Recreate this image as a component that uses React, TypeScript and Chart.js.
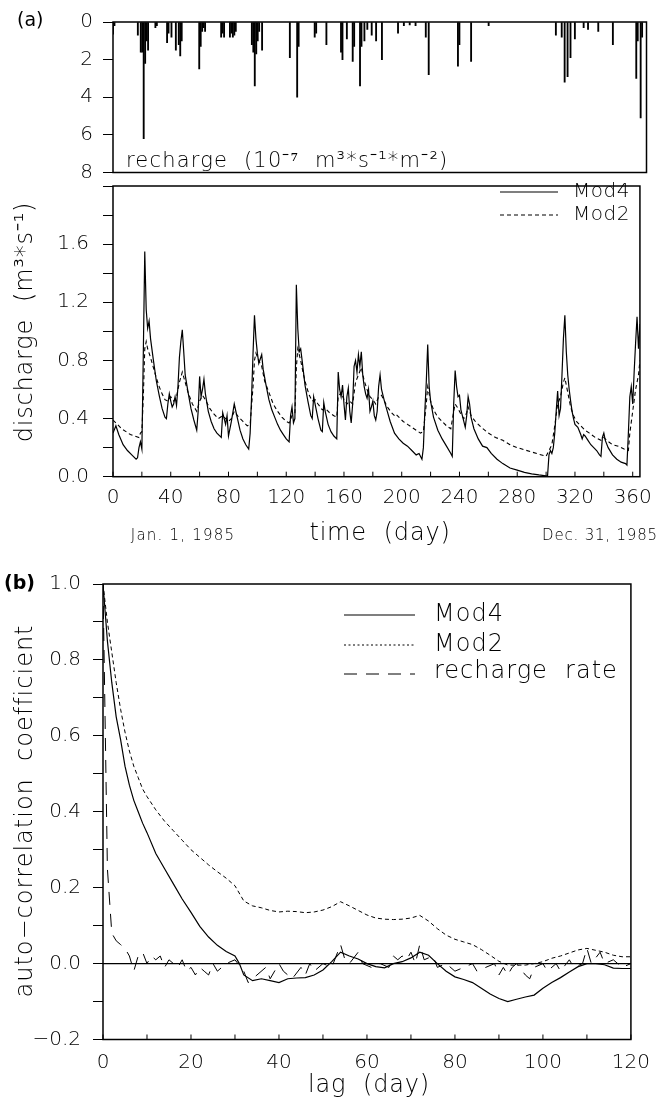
import React, { useEffect, useRef } from 'react';
import { Chart, registerables } from 'chart.js';
Chart.register(...registerables);

const FONT = 'DejaVu Sans';
const W = '300';

// ---------- (a) recharge (10^-7 m3 s-1 m-2), daily ----------
const rechargeDay = [0, 1, 17, 19, 20, 21, 22, 23, 24, 29, 30, 37, 38, 40, 43, 45, 46, 47, 59, 60, 61, 62, 63, 74, 75, 76, 80, 81, 82, 83, 84, 95, 96, 97, 98, 99, 100, 102, 121, 126, 127, 138, 139, 146, 156, 157, 160, 164, 165, 169, 170, 172, 174, 177, 180, 184, 195, 199, 203, 207, 214, 216, 236, 237, 245, 257, 303, 307, 309, 311, 313, 316, 322, 325, 332, 342, 358, 359, 361, 362];
const rechargeRate = [0.65, 0.2, 0.7, 1.6, 1.6, 6.2, 2.2, 1.0, 1.5, 0.3, 0.2, 1.1, 0.6, 0.8, 1.5, 1.2, 1.8, 1.0, 2.5, 1.3, 0.5, 0.3, 0.5, 0.8, 0.6, 0.8, 0.8, 0.6, 0.8, 0.7, 0.5, 1.2, 1.6, 3.4, 1.7, 1.0, 0.5, 1.5, 1.9, 4.0, 1.3, 0.8, 0.6, 1.2, 1.6, 2.0, 0.9, 2.1, 1.3, 3.4, 1.3, 1.0, 0.4, 0.7, 1.0, 2.0, 0.6, 0.2, 0.15, 0.2, 0.8, 2.8, 2.35, 1.2, 2.1, 0.2, 0.7, 0.8, 3.2, 2.9, 1.9, 0.9, 0.3, 0.4, 0.5, 1.2, 3.0, 1.0, 5.1, 0.8];
const rechargeTicks = [0, 1, 2, 3, 4, 5, 6, 7, 8];
const rechargeLabels = [0, 2, 4, 6, 8];

// ---------- (a) discharge (m3/s) [day, value] ----------
const mod4Discharge: [number, number][] = [[0,0.30],[2,0.35],[4,0.29],[7,0.22],[10,0.18],[13,0.15],[16,0.12],[17,0.13],[18,0.20],[19,0.24],[20,0.19],[21,0.85],[22,1.55],[23,1.15],[24,1.02],[25,1.07],[26,0.95],[28,0.80],[30,0.66],[32,0.56],[34,0.47],[36,0.41],[37,0.40],[38,0.50],[39,0.57],[40,0.52],[41,0.48],[42,0.50],[43,0.55],[44,0.49],[45,0.62],[46,0.82],[47,0.93],[48,1.01],[49,0.86],[50,0.70],[52,0.58],[54,0.47],[56,0.39],[58,0.32],[59,0.45],[60,0.69],[61,0.55],[62,0.60],[63,0.67],[64,0.57],[66,0.45],[68,0.38],[70,0.33],[72,0.30],[75,0.27],[76,0.44],[77,0.40],[78,0.36],[79,0.42],[80,0.28],[82,0.38],[84,0.50],[86,0.41],[88,0.32],[90,0.26],[92,0.22],[94,0.19],[95,0.30],[96,0.55],[97,0.85],[98,1.11],[99,0.95],[100,0.85],[101,0.78],[102,0.81],[103,0.84],[104,0.74],[106,0.63],[108,0.53],[110,0.46],[112,0.41],[114,0.36],[116,0.32],[118,0.29],[120,0.26],[122,0.24],[123,0.42],[124,0.48],[125,0.37],[126,0.40],[127,1.32],[128,1.02],[129,0.86],[130,0.88],[131,0.80],[133,0.63],[135,0.52],[137,0.42],[138,0.40],[139,0.55],[140,0.50],[142,0.40],[144,0.32],[145,0.31],[146,0.51],[147,0.45],[149,0.36],[151,0.31],[153,0.28],[155,0.26],[156,0.72],[157,0.60],[158,0.55],[159,0.63],[160,0.50],[161,0.39],[162,0.55],[163,0.61],[164,0.45],[165,0.37],[166,0.50],[167,0.76],[168,0.80],[169,0.72],[170,0.84],[171,0.76],[172,0.86],[173,0.70],[174,0.62],[175,0.57],[176,0.54],[177,0.60],[178,0.45],[179,0.48],[180,0.52],[181,0.42],[182,0.39],[183,0.45],[184,0.62],[185,0.70],[186,0.60],[188,0.52],[190,0.45],[192,0.38],[195,0.30],[198,0.26],[201,0.23],[204,0.21],[207,0.18],[210,0.15],[212,0.16],[214,0.12],[215,0.20],[216,0.45],[217,0.65],[218,0.91],[219,0.62],[220,0.52],[222,0.41],[225,0.32],[228,0.26],[231,0.21],[234,0.16],[235,0.14],[236,0.50],[237,0.73],[238,0.62],[239,0.55],[240,0.56],[241,0.46],[243,0.38],[244,0.34],[245,0.42],[246,0.55],[247,0.50],[248,0.41],[250,0.33],[253,0.26],[256,0.21],[259,0.20],[262,0.16],[266,0.12],[270,0.09],[275,0.06],[280,0.045],[285,0.03],[290,0.02],[295,0.012],[301,0.005],[302,0.15],[303,0.18],[304,0.16],[305,0.20],[306,0.30],[307,0.45],[308,0.59],[309,0.42],[310,0.47],[311,0.70],[312,0.95],[313,1.11],[314,0.86],[315,0.70],[316,0.60],[317,0.52],[318,0.45],[319,0.40],[320,0.36],[322,0.34],[324,0.29],[325,0.26],[326,0.29],[327,0.28],[329,0.25],[331,0.22],[333,0.20],[335,0.18],[337,0.15],[338,0.14],[339,0.27],[340,0.30],[341,0.25],[343,0.20],[346,0.15],[349,0.12],[352,0.10],[355,0.09],[356,0.08],[357,0.30],[358,0.55],[359,0.62],[360,0.50],[361,0.72],[362,0.92],[363,1.10],[364,0.88],[365,1.05]];
const mod2Discharge: [number, number][] = [[0,0.39],[3,0.36],[6,0.33],[9,0.31],[12,0.29],[15,0.28],[18,0.27],[19,0.30],[20,0.31],[21,0.55],[22,0.88],[23,0.93],[24,0.88],[26,0.82],[28,0.75],[30,0.68],[32,0.62],[34,0.57],[36,0.53],[38,0.52],[40,0.55],[42,0.52],[44,0.55],[46,0.65],[48,0.72],[50,0.65],[52,0.58],[55,0.50],[58,0.45],[60,0.52],[62,0.56],[64,0.53],[67,0.47],[70,0.43],[73,0.40],[76,0.42],[78,0.40],[80,0.38],[82,0.40],[84,0.45],[87,0.41],[90,0.38],[93,0.35],[95,0.36],[97,0.62],[98,0.80],[99,0.85],[101,0.80],[103,0.76],[105,0.66],[108,0.58],[111,0.50],[114,0.45],[117,0.41],[120,0.38],[122,0.37],[124,0.42],[126,0.44],[127,0.75],[128,0.88],[130,0.80],[132,0.70],[134,0.62],[136,0.56],[138,0.52],[140,0.53],[142,0.50],[145,0.46],[147,0.47],[150,0.44],[153,0.42],[155,0.41],[156,0.55],[158,0.58],[160,0.53],[162,0.50],[164,0.52],[166,0.50],[168,0.65],[170,0.70],[172,0.75],[174,0.66],[176,0.60],[178,0.55],[180,0.53],[182,0.50],[184,0.55],[186,0.56],[188,0.52],[190,0.48],[193,0.44],[195,0.42],[196,0.43],[198,0.41],[201,0.38],[204,0.36],[207,0.34],[210,0.32],[213,0.30],[215,0.31],[217,0.50],[218,0.62],[220,0.52],[222,0.46],[225,0.41],[228,0.38],[231,0.35],[234,0.33],[236,0.45],[237,0.50],[239,0.47],[241,0.43],[243,0.40],[245,0.44],[246,0.48],[248,0.42],[251,0.38],[255,0.34],[260,0.30],[265,0.27],[270,0.25],[275,0.22],[280,0.20],[285,0.185],[290,0.17],[295,0.155],[300,0.14],[302,0.18],[304,0.22],[306,0.35],[308,0.50],[310,0.55],[312,0.65],[313,0.68],[315,0.58],[317,0.48],[319,0.42],[321,0.38],[324,0.35],[327,0.32],[330,0.30],[334,0.27],[338,0.25],[340,0.27],[342,0.25],[346,0.22],[350,0.21],[354,0.19],[357,0.18],[358,0.30],[360,0.45],[362,0.60],[364,0.70],[365,0.80]];
const dischargeTicks = [0, 0.2, 0.4, 0.6, 0.8, 1.0, 1.2, 1.4, 1.6, 1.8, 2.0];
const dischargeLabels = [0, 0.4, 0.8, 1.2, 1.6];
const timeTicks = [0, 20, 40, 60, 80, 100, 120, 140, 160, 180, 200, 220, 240, 260, 280, 300, 320, 340, 360];
const timeLabels = [0, 40, 80, 120, 160, 200, 240, 280, 320, 360];

// ---------- (b) auto-correlation [lag, value] ----------
const acfMod4: [number, number][] = [[0,1.0],[1,0.85],[2,0.74],[3,0.65],[4,0.59],[5,0.52],[6,0.47],[7,0.43],[8,0.40],[9,0.37],[10,0.345],[12,0.29],[14,0.25],[16,0.21],[18,0.17],[20,0.135],[22,0.098],[24,0.07],[26,0.048],[28,0.032],[30,0.02],[31,0.0],[32,-0.03],[34,-0.045],[36,-0.04],[38,-0.045],[40,-0.05],[42,-0.04],[44,-0.038],[46,-0.037],[48,-0.03],[50,-0.017],[52,0.005],[54,0.03],[56,0.02],[58,0.012],[60,0.0],[62,-0.008],[64,-0.011],[66,0.0],[68,0.005],[70,0.015],[72,0.03],[74,0.022],[76,0.0],[78,-0.02],[80,-0.035],[82,-0.042],[84,-0.05],[86,-0.065],[88,-0.08],[90,-0.092],[92,-0.1],[94,-0.094],[96,-0.088],[98,-0.083],[100,-0.065],[102,-0.05],[104,-0.037],[106,-0.022],[108,-0.008],[110,0.0],[112,0.0],[114,-0.003],[116,-0.012],[118,-0.013],[120,-0.013]];
const acfMod2: [number, number][] = [[0,1.0],[1,0.9],[2,0.82],[3,0.74],[4,0.67],[5,0.61],[6,0.56],[7,0.52],[8,0.49],[9,0.46],[10,0.44],[12,0.405],[14,0.375],[16,0.35],[18,0.325],[20,0.30],[22,0.28],[24,0.26],[26,0.242],[28,0.225],[30,0.205],[32,0.165],[34,0.152],[36,0.147],[38,0.14],[40,0.136],[42,0.138],[44,0.137],[46,0.134],[48,0.136],[50,0.141],[52,0.15],[54,0.163],[56,0.152],[58,0.14],[60,0.128],[62,0.12],[64,0.117],[66,0.116],[68,0.117],[70,0.12],[72,0.127],[74,0.112],[76,0.092],[78,0.075],[80,0.064],[82,0.057],[84,0.05],[86,0.037],[88,0.022],[90,0.006],[92,-0.004],[94,-0.004],[96,-0.004],[98,0.0],[100,0.005],[102,0.014],[104,0.02],[106,0.028],[108,0.036],[110,0.04],[112,0.035],[114,0.03],[116,0.022],[118,0.018],[120,0.018]];
const acfRecharge: [number, number][] = [[0,1.0],[1,0.25],[2,0.08],[3,0.06],[4,0.05],[5,0.04],[6,0.02],[7,-0.02],[8,0.02],[9,0.03],[10,0.0],[11,0.02],[12,0.01],[13,0.02],[14,-0.01],[15,0.01],[16,0.0],[17,-0.01],[18,0.01],[19,-0.02],[20,-0.01],[21,-0.03],[22,-0.01],[23,-0.02],[24,-0.03],[25,0.0],[26,-0.02],[27,-0.01],[28,0.0],[30,0.01],[32,-0.02],[33,-0.05],[35,-0.03],[37,-0.01],[38,-0.04],[40,0.0],[41,-0.02],[43,-0.04],[45,-0.01],[46,-0.03],[47,0.0],[48,-0.02],[50,0.0],[52,-0.01],[54,0.05],[55,0.01],[56,0.0],[58,0.03],[59,0.0],[61,-0.01],[63,0.0],[65,-0.01],[66,0.02],[67,0.01],[68,0.02],[69,0.01],[70,0.03],[71,0.0],[72,0.05],[73,0.01],[75,0.02],[76,-0.01],[78,0.0],[80,-0.02],[82,-0.01],[84,0.0],[85,-0.02],[87,-0.01],[89,0.0],[90,-0.03],[91,-0.01],[92,-0.03],[93,-0.01],[94,0.0],[96,-0.03],[97,-0.04],[98,-0.01],[100,0.0],[101,-0.02],[103,0.0],[104,-0.02],[106,0.01],[107,-0.01],[109,0.0],[110,0.04],[111,0.0],[113,0.03],[114,0.0],[116,0.01],[118,-0.01],[120,0.0]];
const acfTicks = [-0.2, -0.1, 0, 0.1, 0.2, 0.3, 0.4, 0.5, 0.6, 0.7, 0.8, 0.9, 1.0];
const acfLabels = [-0.2, 0, 0.2, 0.4, 0.6, 0.8, 1.0];
const lagTicks = [0, 10, 20, 30, 40, 50, 60, 70, 80, 90, 100, 110, 120];
const lagLabels = [0, 20, 40, 60, 80, 100, 120];

const has = (arr: number[], v: number) => arr.some((a) => Math.abs(a - v) < 1e-9);
const toPts = (p: [number, number][]) => p.map(([x, y]) => ({ x, y }));
const fmt1 = (v: number) => (v < 0 ? '\u2212' + Math.abs(v).toFixed(1) : v.toFixed(1));

function txt(ctx: CanvasRenderingContext2D, s: string, x: number, y: number, size: number, o: any = {}) {
  ctx.save();
  ctx.font = `${o.weight || W} ${size}px "${FONT}"`;
  ctx.fillStyle = '#000';
  ctx.textAlign = o.align || 'left';
  ctx.textBaseline = o.baseline || 'alphabetic';
  if (o.spacing) (ctx as any).letterSpacing = o.spacing + 'px';
  ctx.translate(x, y);
  if (o.rotate) ctx.rotate(o.rotate);
  ctx.fillText(s, 0, 0);
  ctx.restore();
}
function frame(chart: any, lw = 1.5) {
  const { ctx, chartArea: a } = chart;
  ctx.save();
  ctx.strokeStyle = '#000';
  ctx.lineWidth = lw;
  ctx.strokeRect(a.left, a.top, a.right - a.left, a.bottom - a.top);
  ctx.restore();
}
function innerTicks(chart: any, values: number[], len: number) {
  const { ctx, chartArea: a, scales } = chart;
  ctx.save();
  ctx.strokeStyle = '#000';
  ctx.lineWidth = 1;
  values.forEach((v) => {
    const px = scales.x.getPixelForValue(v);
    ctx.beginPath();
    ctx.moveTo(px, a.bottom);
    ctx.lineTo(px, a.bottom - len);
    ctx.stroke();
  });
  ctx.restore();
}
function legendLine(ctx: CanvasRenderingContext2D, x1: number, x2: number, y: number, dash: number[], lw: number) {
  ctx.save();
  ctx.strokeStyle = '#000';
  ctx.lineWidth = lw;
  ctx.setLineDash(dash);
  ctx.beginPath();
  ctx.moveTo(x1, y);
  ctx.lineTo(x2, y);
  ctx.stroke();
  ctx.restore();
}

const tickFont = { family: FONT, size: 20, weight: W as any };
const TOP_A = 0, TOP_B = 160, TOP_C = 560;

export default function App() {
  const refA = useRef<HTMLCanvasElement>(null);
  const refB = useRef<HTMLCanvasElement>(null);
  const refC = useRef<HTMLCanvasElement>(null);

  useEffect(() => {
    Chart.defaults.font.family = FONT;
    Chart.defaults.color = '#000';
    const common = { animation: false as const, responsive: false, maintainAspectRatio: false, devicePixelRatio: 1 };
    const yGrid = { display: true, drawOnChartArea: false, drawTicks: true, tickLength: 10, color: '#000', lineWidth: 1 };

    const chartA = new Chart(refA.current!, {
      type: 'bar',
      data: {
        datasets: [{
          label: 'recharge',
          data: rechargeDay.map((d, i) => ({ x: d, y: rechargeRate[i] })),
          backgroundColor: '#000',
          borderWidth: 0,
          barThickness: 1.2,
        } as any],
      },
      options: {
        ...common,
        layout: { padding: { left: 0, right: 14.5, top: 21 - TOP_A, bottom: 200 - 172.5 } },
        plugins: { legend: { display: false }, tooltip: { enabled: false } },
        scales: {
          x: { type: 'linear', min: 0, max: 365, display: false, offset: false },
          y: {
            min: 0, max: 8, reverse: true,
            afterFit: (s: any) => { s.width = 113; },
            afterBuildTicks: (s: any) => { s.ticks = rechargeTicks.map((v) => ({ value: v })); },
            ticks: { font: tickFont, color: '#000', padding: 10, callback: (v: any) => (has(rechargeLabels, v) ? String(v) : '') },
            grid: yGrid, border: { display: false },
          },
        },
      } as any,
      plugins: [{
        id: 'decoA',
        afterDraw(chart: any) {
          frame(chart);
          const ctx = chart.ctx;
          txt(ctx, '(a)', 17, 21 - TOP_A, 19, { baseline: 'middle', weight: 'normal' });
          txt(ctx, 'recharge  (10\u207B\u2077  m\u00B3*s\u207B\u00B9*m\u207B\u00B2)', 126, 167 - TOP_A, 21, { spacing: 1.2 });
        },
      }],
    });

    const chartB = new Chart(refB.current!, {
      type: 'line',
      data: {
        datasets: [
          { label: 'Mod4', data: toPts(mod4Discharge), borderColor: '#000', borderWidth: 1.2, pointRadius: 0, tension: 0, fill: false },
          { label: 'Mod2', data: toPts(mod2Discharge), borderColor: '#000', borderWidth: 1.1, borderDash: [4, 3], pointRadius: 0, tension: 0, fill: false },
        ],
      },
      options: {
        ...common,
        layout: { padding: { left: 0, right: 14.5, top: 172.5 - TOP_B, bottom: 0 } },
        plugins: { legend: { display: false }, tooltip: { enabled: false } },
        scales: {
          x: {
            type: 'linear', min: 0, max: 365,
            afterFit: (s: any) => { s.height = 400 - (476.7 - TOP_B); },
            afterBuildTicks: (s: any) => { s.ticks = timeTicks.map((v) => ({ value: v })); },
            ticks: { font: tickFont, color: '#000', padding: 9, maxRotation: 0, autoSkip: false, callback: (v: any) => (has(timeLabels, v) ? String(v) : '') },
            grid: { display: false, drawTicks: false, tickLength: 0 }, border: { display: false },
          },
          y: {
            min: 0, max: 2.0,
            afterFit: (s: any) => { s.width = 113; },
            afterBuildTicks: (s: any) => { s.ticks = dischargeTicks.map((v) => ({ value: v })); },
            ticks: { font: tickFont, color: '#000', padding: 14, callback: (v: any) => (has(dischargeLabels, v) ? Number(v).toFixed(1) : '') },
            grid: yGrid, border: { display: false },
          },
        },
      } as any,
      plugins: [{
        id: 'decoB',
        afterDraw(chart: any) {
          frame(chart);
          innerTicks(chart, timeTicks, 5);
          const ctx = chart.ctx;
          const ds = chart.data.datasets;
          legendLine(ctx, 500, 558, 192 - TOP_B, [], 1.2);
          legendLine(ctx, 500, 558, 215 - TOP_B, [4, 3], 1.1);
          txt(ctx, ds[0].label, 573, 192 - TOP_B, 20, { baseline: 'middle', spacing: 0.5 });
          txt(ctx, ds[1].label, 573, 215 - TOP_B, 20, { baseline: 'middle', spacing: 0.5 });
          txt(ctx, 'discharge  (m\u00B3*s\u207B\u00B9)', 32, 322 - TOP_B, 24, { align: 'center', rotate: -Math.PI / 2, spacing: 0.8 });
          txt(ctx, 'time  (day)', 380, 540 - TOP_B, 24, { align: 'center', spacing: 0.8 });
          txt(ctx, 'Jan. 1, 1985', 183, 540 - TOP_B, 15, { align: 'center', spacing: 1.2 });
          txt(ctx, 'Dec. 31, 1985', 600, 540 - TOP_B, 15, { align: 'center', spacing: 0.8 });
        },
      }],
    });

    const chartC = new Chart(refC.current!, {
      type: 'line',
      data: {
        datasets: [
          { label: 'Mod4', data: toPts(acfMod4), borderColor: '#000', borderWidth: 1.2, pointRadius: 0, tension: 0, fill: false },
          { label: 'Mod2', data: toPts(acfMod2), borderColor: '#000', borderWidth: 1.0, borderDash: [4, 3], pointRadius: 0, tension: 0, fill: false },
          { label: 'recharge  rate', data: toPts(acfRecharge), borderColor: '#000', borderWidth: 1.0, borderDash: [13, 9], pointRadius: 0, tension: 0, fill: false },
        ],
      },
      options: {
        ...common,
        layout: { padding: { left: 0, right: 26, top: 583.5 - TOP_C, bottom: 0 } },
        plugins: { legend: { display: false }, tooltip: { enabled: false } },
        scales: {
          x: {
            type: 'linear', min: 0, max: 120,
            afterFit: (s: any) => { s.height = 537 - (1039.5 - TOP_C); },
            afterBuildTicks: (s: any) => { s.ticks = lagTicks.map((v) => ({ value: v })); },
            ticks: { font: tickFont, color: '#000', padding: 11, maxRotation: 0, autoSkip: false, callback: (v: any) => (has(lagLabels, v) ? String(v) : '') },
            grid: { display: false, drawTicks: false, tickLength: 0 }, border: { display: false },
          },
          y: {
            min: -0.2, max: 1.0,
            afterFit: (s: any) => { s.width = 103; },
            afterBuildTicks: (s: any) => { s.ticks = acfTicks.map((v) => ({ value: v })); },
            ticks: { font: tickFont, color: '#000', padding: 12, callback: (v: any) => (has(acfLabels, v) ? fmt1(Number(v)) : '') },
            grid: yGrid, border: { display: false },
          },
        },
      } as any,
      plugins: [{
        id: 'decoC',
        afterDraw(chart: any) {
          const { ctx, chartArea: a, scales } = chart;
          const y0 = scales.y.getPixelForValue(0);
          ctx.save();
          ctx.strokeStyle = '#000';
          ctx.lineWidth = 1.2;
          ctx.beginPath();
          ctx.moveTo(a.left, y0);
          ctx.lineTo(a.right, y0);
          ctx.stroke();
          ctx.restore();
          frame(chart);
          innerTicks(chart, lagTicks, 5);
          const ds = chart.data.datasets;
          legendLine(ctx, 344, 415, 615 - TOP_C, [], 1.2);
          legendLine(ctx, 344, 415, 645 - TOP_C, [2, 2.5], 1.0);
          legendLine(ctx, 344, 415, 674 - TOP_C, [13, 9], 1.0);
          txt(ctx, ds[0].label, 434, 615 - TOP_C, 24, { baseline: 'middle', spacing: 1 });
          txt(ctx, ds[1].label, 434, 645 - TOP_C, 24, { baseline: 'middle', spacing: 1 });
          txt(ctx, ds[2].label, 434, 672 - TOP_C, 24, { baseline: 'middle', spacing: 1 });
          txt(ctx, '(b)', 4, 584 - TOP_C, 19, { baseline: 'middle', weight: 'bold' });
          txt(ctx, 'auto\u2212correlation  coefficient', 32, 811 - TOP_C, 24, { align: 'center', rotate: -Math.PI / 2, spacing: 1 });
          txt(ctx, 'lag  (day)', 369, 1092 - TOP_C, 24, { align: 'center', spacing: 0.8 });
        },
      }],
    });

    return () => { chartA.destroy(); chartB.destroy(); chartC.destroy(); };
  }, []);

  return (
    <div style={{ position: 'absolute', left: 0, top: 0, width: 661, height: 1097, background: '#fff', overflow: 'hidden' }}>
      <canvas ref={refA} width={661} height={200} style={{ position: 'absolute', left: 0, top: TOP_A, width: 661, height: 200 }} />
      <canvas ref={refB} width={661} height={400} style={{ position: 'absolute', left: 0, top: TOP_B, width: 661, height: 400 }} />
      <canvas ref={refC} width={661} height={537} style={{ position: 'absolute', left: 0, top: TOP_C, width: 661, height: 537 }} />
    </div>
  );
}
